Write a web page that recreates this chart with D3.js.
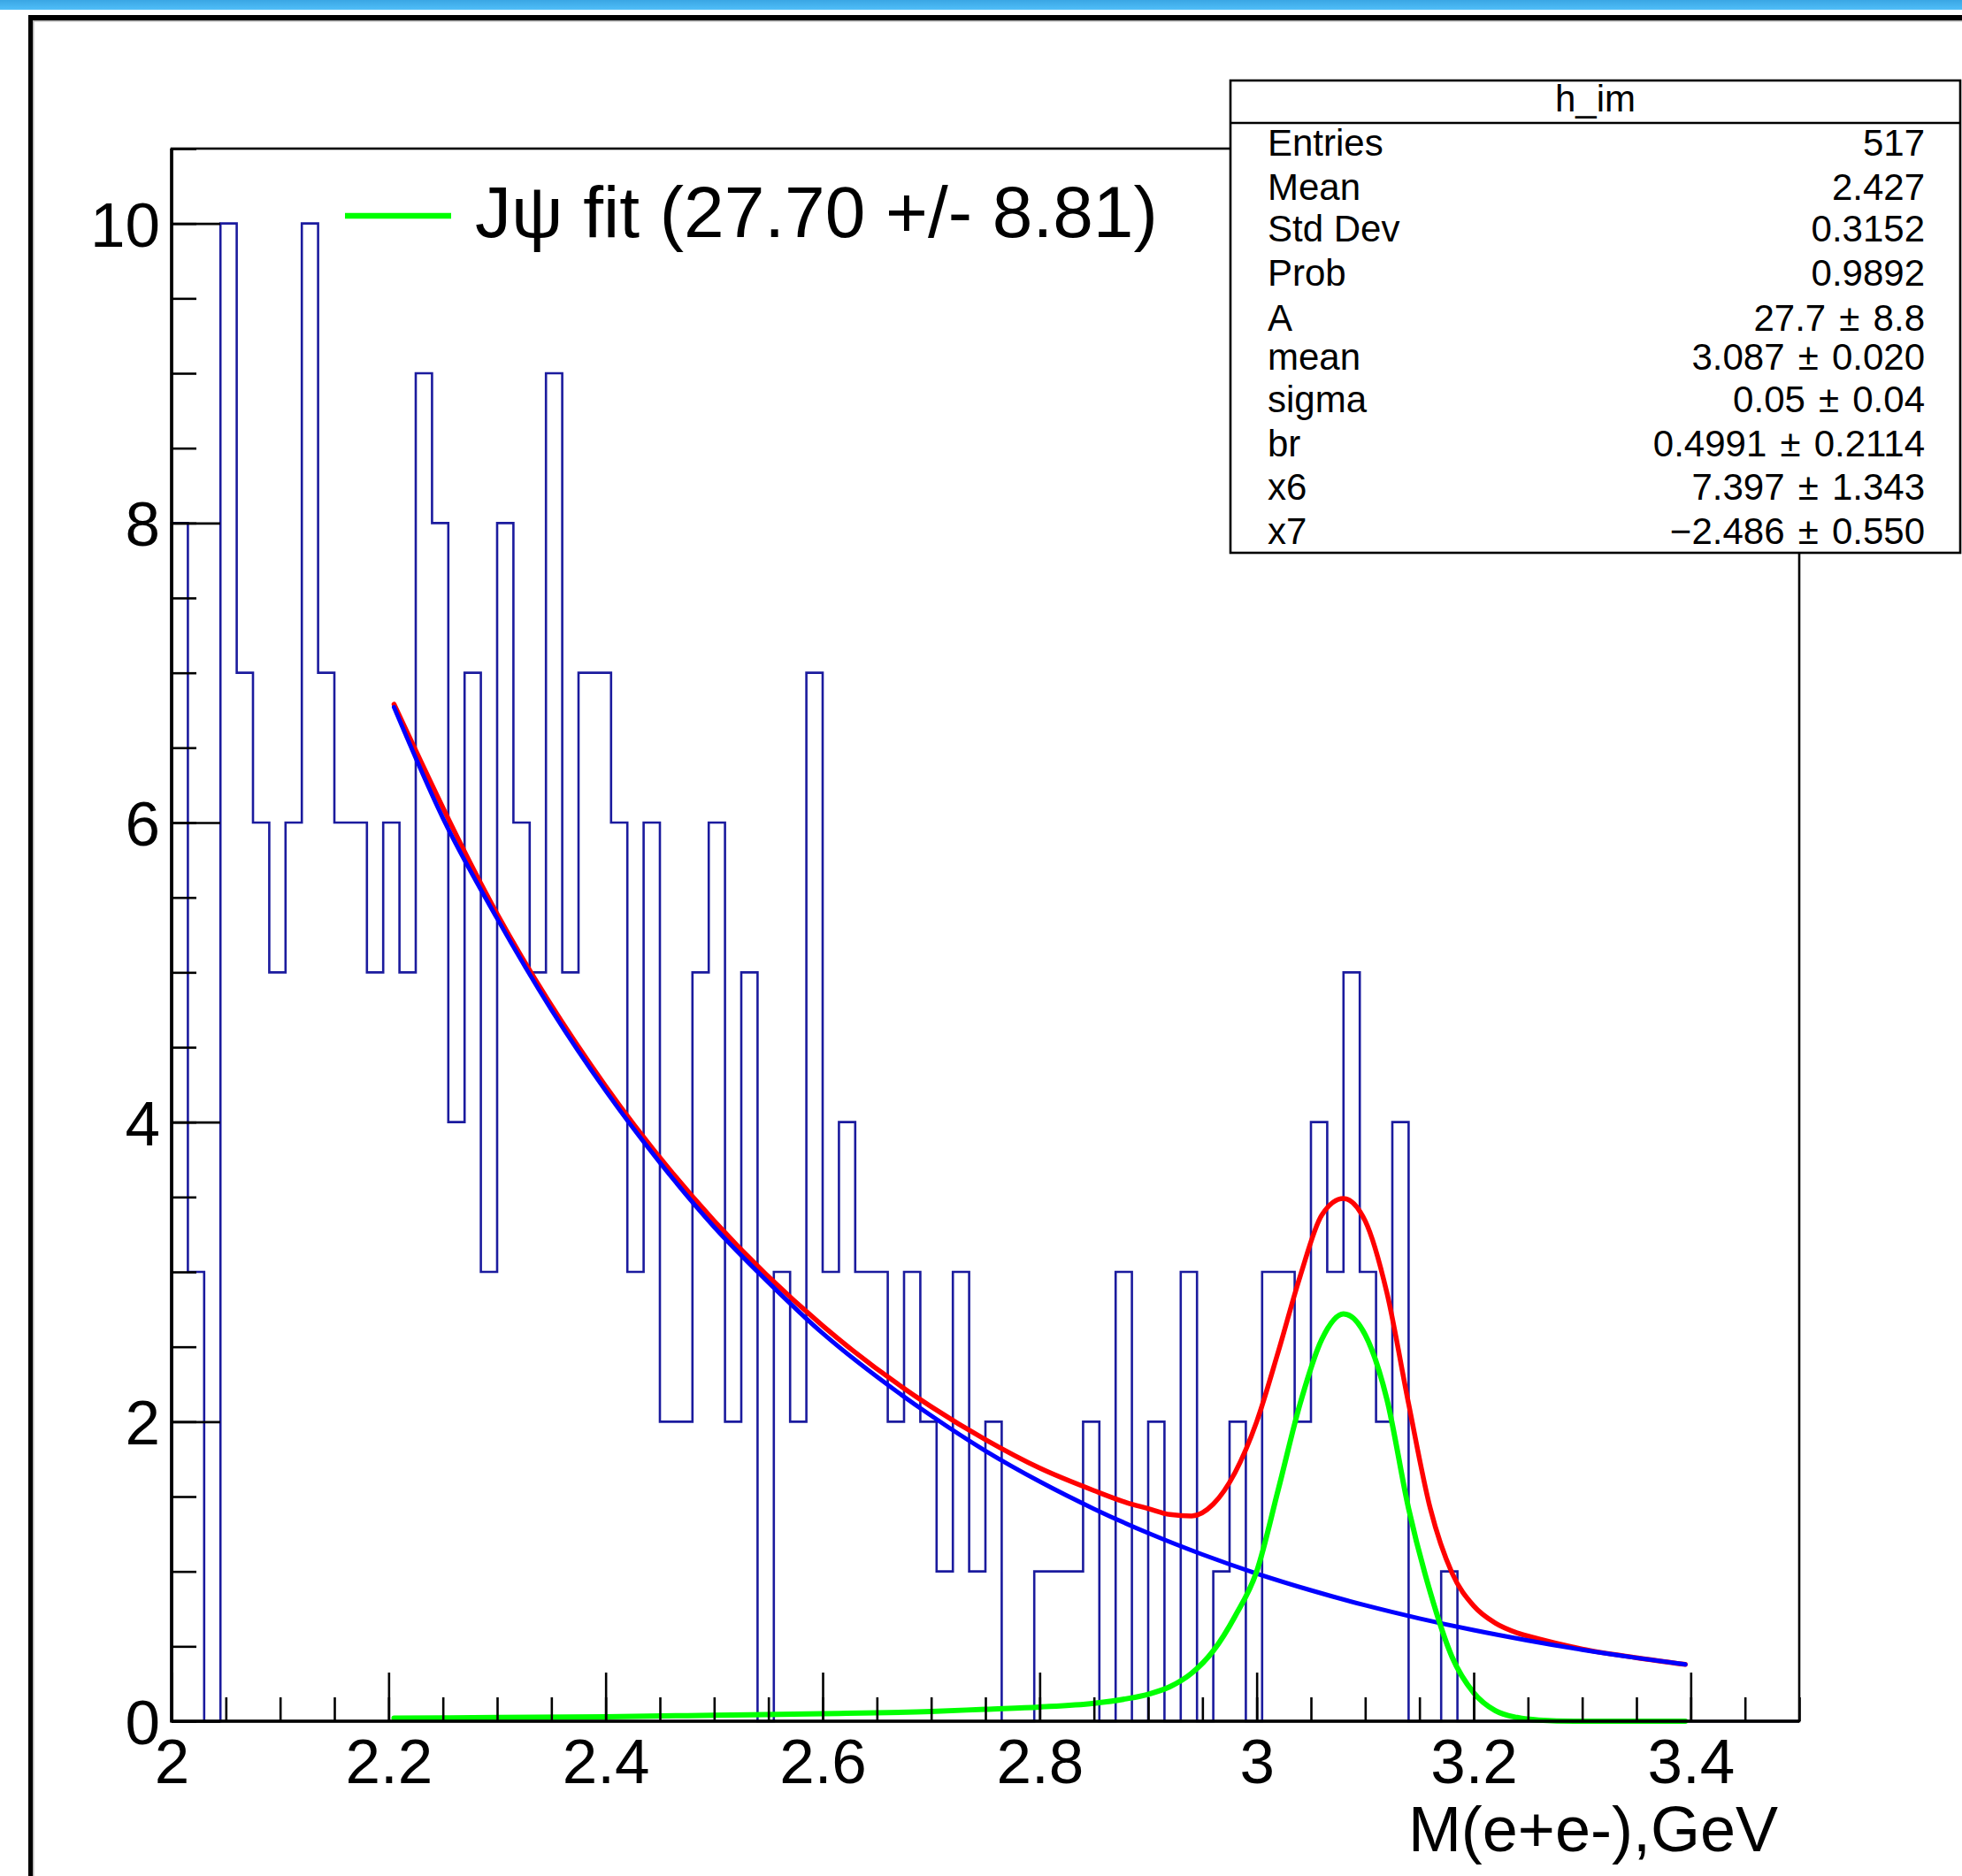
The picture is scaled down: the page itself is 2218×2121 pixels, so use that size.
<!DOCTYPE html>
<html>
<head>
<meta charset="utf-8">
<script src="https://cdn.jsdelivr.net/npm/d3@7"></script>
<style>
  html, body { margin: 0; padding: 0; background: #ffffff; }
  svg { display: block; }
  text { font-family: "Liberation Sans", Arial, Helvetica, sans-serif; }
</style>
</head>
<body>
<script>
// ---------------- data ----------------
const histLow = 2.0;
const histBinWidth = 0.015;
const histCounts = [
  8,3,0,10,7,6,5,6,10,7,6,6,5,6,5,9,8,4,7,3,8,6,5,9,5,7,
  7,6,3,6,2,2,5,6,2,5,0,3,2,7,3,4,3,3,2,3,2,1,3,1,2,
  0,0,1,1,1,2,0,3,0,2,0,3,0,1,2,0,3,3,2,4,3,5,3,2,4,0,0,1,
  0,0,0,0,0,0,0,0,0,0,0,0,0,0,0,0,0,0,0,0,0
];

// background fit (blue)
const bgX = [2.205,2.25,2.30,2.35,2.40,2.45,2.50,2.55,2.60,2.65,2.70,2.75,2.80,2.85,2.90,2.95,3.00,3.05,3.10,3.15,3.20,3.25,3.30,3.35,3.395];
const bgY = [6.77,6.03,5.36,4.75,4.21,3.73,3.30,2.93,2.59,2.30,2.04,1.805,1.600,1.418,1.256,1.113,0.986,0.874,0.774,0.686,0.608,0.539,0.477,0.423,0.379];

// J/psi signal (green)
const sigX = [2.205,2.30,2.40,2.50,2.60,2.70,2.75,2.80,2.85,2.88,2.90,2.92,2.94,2.96,2.98,3.00,3.02,3.04,3.06,3.08,3.10,3.12,3.14,3.16,3.18,3.20,3.22,3.24,3.26,3.30,3.395];
const sigY = [0.02,0.025,0.03,0.04,0.05,0.065,0.08,0.095,0.12,0.15,0.18,0.23,0.32,0.47,0.70,1.00,1.55,2.12,2.55,2.72,2.58,2.15,1.42,0.86,0.43,0.19,0.07,0.025,0.008,0.0,0.0];

// total fit (red)
const totX = [2.205,2.30,2.40,2.50,2.60,2.70,2.75,2.80,2.85,2.88,2.90,2.92,2.94,2.96,2.98,3.00,3.02,3.04,3.06,3.08,3.10,3.12,3.14,3.16,3.18,3.20,3.22,3.24,3.26,3.30,3.35,3.395];
const totY = [6.79,5.39,4.24,3.34,2.64,2.10,1.88,1.69,1.54,1.46,1.42,1.38,1.37,1.45,1.66,2.00,2.47,2.97,3.38,3.49,3.34,2.86,2.12,1.42,0.99,0.77,0.655,0.59,0.55,0.482,0.424,0.379];

const xTickValues = [2.0,2.2,2.4,2.6,2.8,3.0,3.2,3.4];
const xTickLabels = ["2","2.2","2.4","2.6","2.8","3","3.2","3.4"];
const yTickValues = [0,2,4,6,8,10];
const yTickLabels = ["0","2","4","6","8","10"];

const legendLabel = "J\u03C8 fit (27.70 +/- 8.81)";
const xTitle = "M(e+e-),GeV";
const statsTitle = "h_im";
const statsNames = ["Entries","Mean","Std Dev","Prob","A","mean","sigma","br","x6","x7"];
const PM = "\u200A\u00B1\u200A";
const statsValues = ["517","2.427","0.3152","0.9892","27.7 "+PM+" 8.8","3.087 "+PM+" 0.020","0.05 "+PM+" 0.04","0.4991 "+PM+" 0.2114","7.397 "+PM+" 1.343","\u22122.486 "+PM+" 0.550"];

// ---------------- layout ----------------
const W = 2218, H = 2121;
const plot = {left: 194, right: 2034, top: 168, bottom: 1946};
const FONT = '"Liberation Sans", Arial, Helvetica, sans-serif';

const svg = d3.select("body").append("svg")
  .attr("width", W).attr("height", H)
  .attr("viewBox", `0 0 ${W} ${H}`);

// window chrome: blue bar and canvas border
const defs = svg.append("defs");
const grad = defs.append("linearGradient").attr("id","topbar").attr("x1",0).attr("y1",0).attr("x2",0).attr("y2",1);
grad.append("stop").attr("offset","0%").attr("stop-color","#3aa6e4");
grad.append("stop").attr("offset","100%").attr("stop-color","#50bef8");
svg.append("rect").attr("x",0).attr("y",0).attr("width",W).attr("height",11).attr("fill","url(#topbar)");
svg.append("rect").attr("x",32).attr("y",17).attr("width",W-32).attr("height",6).attr("fill","#000");
svg.append("rect").attr("x",32).attr("y",17).attr("width",5).attr("height",H-17).attr("fill","#000");
svg.append("rect").attr("x",37).attr("y",23).attr("width",W-37).attr("height",1.5).attr("fill","#b0b0b0");
svg.append("rect").attr("x",37).attr("y",23).attr("width",1.5).attr("height",H-23).attr("fill","#b0b0b0");

const x = d3.scaleLinear().domain([2.0, 3.5]).range([plot.left, plot.right]);
const y = d3.scaleLinear().domain([0, 10.5]).range([plot.bottom, plot.top]);

// ---------------- histogram ----------------
const histPts = [];
histPts.push([histLow, 0]);
histCounts.forEach((c, i) => {
  const lo = histLow + i * histBinWidth;
  const hi = histLow + (i + 1) * histBinWidth;
  histPts.push([lo, c]);
  histPts.push([hi, c]);
});
histPts.push([histLow + histCounts.length * histBinWidth, 0]);
svg.append("path")
  .attr("d", d3.line().x(d => x(d[0])).y(d => y(d[1]))(histPts))
  .attr("fill","none").attr("stroke","#1b1b9e").attr("stroke-width",2.6)
  .attr("stroke-linejoin","miter");

// ---------------- fit curves ----------------
const lineGen = d3.line().x(d => x(d[0])).y(d => y(d[1])).curve(d3.curveMonotoneX);
svg.append("path").attr("d", lineGen(totX.map((v,i)=>[v,totY[i]])))
  .attr("fill","none").attr("stroke","#ff0000").attr("stroke-width",5.5).attr("stroke-linecap","round");
svg.append("path").attr("d", lineGen(bgX.map((v,i)=>[v,bgY[i]])))
  .attr("fill","none").attr("stroke","#0000ff").attr("stroke-width",5).attr("stroke-linecap","round");
svg.append("path").attr("d", lineGen(sigX.map((v,i)=>[v,sigY[i]])))
  .attr("fill","none").attr("stroke","#00ff00").attr("stroke-width",6).attr("stroke-linecap","round");

// ---------------- axes ----------------
function styleAxis(g) {
  g.select(".domain").remove();
  g.selectAll("line").attr("stroke","#000").attr("stroke-width",2.6);
  g.selectAll("text").attr("font-family", FONT).attr("font-size",71).attr("fill","#000");
}
// x minor
svg.append("g").attr("transform",`translate(0,${plot.bottom})`)
  .call(d3.axisBottom(x).tickValues(d3.range(0,31).map(i => 2.0 + i*0.05)).tickSizeInner(-27).tickSizeOuter(0).tickFormat(""))
  .call(styleAxis);
// x major
svg.append("g").attr("transform",`translate(0,${plot.bottom})`)
  .call(d3.axisBottom(x).tickValues(xTickValues).tickSizeInner(-55).tickSizeOuter(0).tickPadding(20)
    .tickFormat((d,i) => xTickLabels[i]))
  .call(styleAxis);
// y minor
svg.append("g").attr("transform",`translate(${plot.left},0)`)
  .call(d3.axisLeft(y).tickValues(d3.range(0,22).map(i => i*0.5)).tickSizeInner(-28).tickSizeOuter(0).tickFormat(""))
  .call(styleAxis);
// y major
svg.append("g").attr("transform",`translate(${plot.left},0)`)
  .call(d3.axisLeft(y).tickValues(yTickValues).tickSizeInner(-55).tickSizeOuter(0).tickPadding(13)
    .tickFormat((d,i) => yTickLabels[i]))
  .call(styleAxis)
  .call(g => g.selectAll("text").attr("dy","0.36em"));

// frame
svg.append("rect").attr("x",plot.left).attr("y",plot.top)
  .attr("width",plot.right-plot.left).attr("height",plot.bottom-plot.top)
  .attr("fill","none").attr("stroke","#000").attr("stroke-width",2.6);
svg.append("line").attr("x1",plot.left).attr("x2",plot.left).attr("y1",plot.top).attr("y2",plot.bottom+1.5)
  .attr("stroke","#000").attr("stroke-width",3.6);
svg.append("line").attr("x1",plot.left).attr("x2",plot.right).attr("y1",plot.bottom).attr("y2",plot.bottom)
  .attr("stroke","#000").attr("stroke-width",3.4);

// x title
svg.append("text").attr("x",2010).attr("y",2093).attr("text-anchor","end")
  .attr("font-family",FONT).attr("font-size",72).text(xTitle);

// ---------------- legend ----------------
svg.append("line").attr("x1",390).attr("x2",510).attr("y1",244).attr("y2",244)
  .attr("stroke","#00ff00").attr("stroke-width",6.5);
svg.append("text").attr("x",537).attr("y",268).attr("font-family",FONT).attr("font-size",82)
  .text(legendLabel);

// ---------------- stats box ----------------
const sb = {left: 1391, right: 2216, top: 91, sep: 139, bottom: 625};
svg.append("rect").attr("x",sb.left).attr("y",sb.top).attr("width",sb.right-sb.left).attr("height",sb.bottom-sb.top)
  .attr("fill","#fff").attr("stroke","#000").attr("stroke-width",2.6);
svg.append("line").attr("x1",sb.left).attr("x2",sb.right).attr("y1",sb.sep).attr("y2",sb.sep)
  .attr("stroke","#000").attr("stroke-width",2.6);
svg.append("text").attr("x",(sb.left+sb.right)/2).attr("y",126).attr("text-anchor","middle")
  .attr("font-family",FONT).attr("font-size",42).text(statsTitle);
const rowBase = [176, 226, 273, 323, 374, 418, 466, 516, 565, 615];
statsNames.forEach((n,i) => {
  svg.append("text").attr("x",1433).attr("y",rowBase[i]).attr("font-family",FONT).attr("font-size",42).text(n);
  svg.append("text").attr("x",2176).attr("y",rowBase[i]).attr("text-anchor","end")
    .attr("font-family",FONT).attr("font-size",42).text(statsValues[i]);
});
</script>
</body>
</html>
